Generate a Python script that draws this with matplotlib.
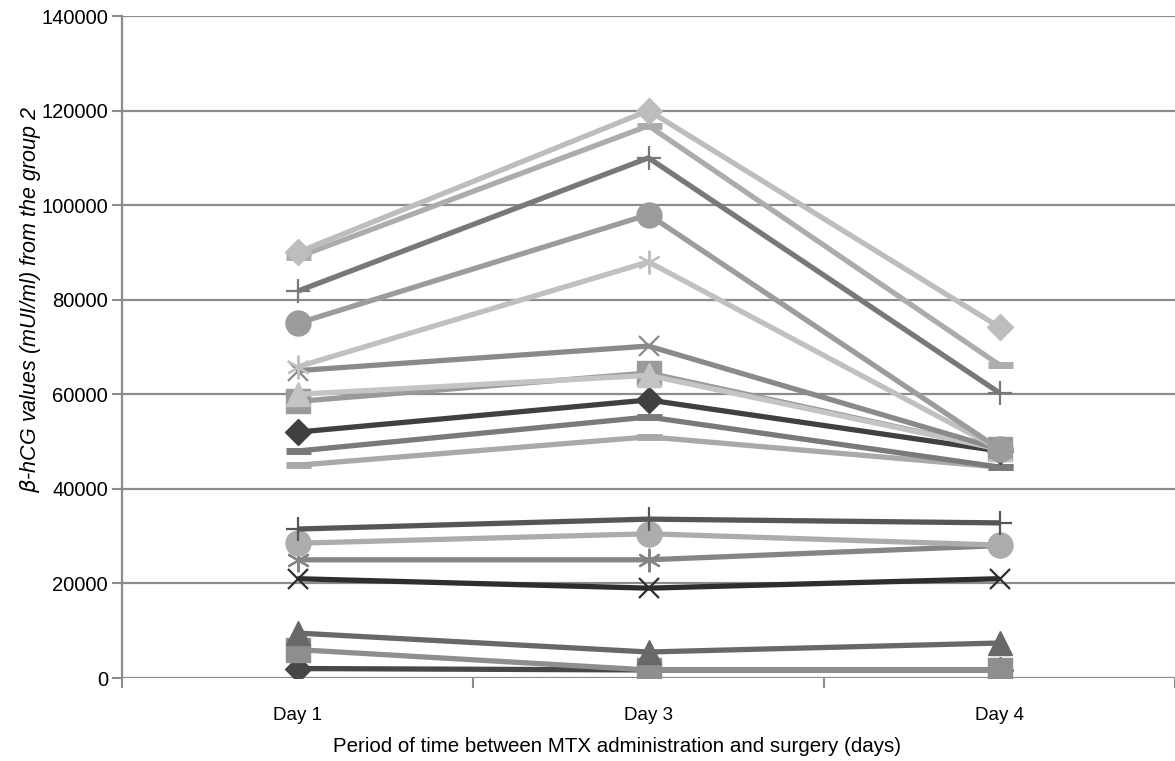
import numpy as np
import matplotlib.pyplot as plt
from matplotlib.ticker import FixedLocator

plt.rcParams['font.family'] = ['Liberation Sans', 'DejaVu Sans']

days = ['Day 1', 'Day 3', 'Day 4']

# beta-hCG values per patient (Day 1, Day 3, Day 4), drawn bottom to top
s01 = [2000, 1700, 1700]
s02 = [6000, 1700, 1700]
s03 = [9500, 5500, 7400]
s04 = [21000, 19000, 21000]
s05 = [25000, 25000, 28000]
s06 = [28500, 30500, 28100]
s07 = [31500, 33600, 32800]
s08 = [45000, 51000, 44600]
s09 = [48000, 55200, 44600]
s10 = [52000, 58800, 48000]
s11 = [58500, 64500, 48400]
s12 = [60000, 64000, 48400]
s13 = [65000, 70200, 48400]
s14 = [65800, 88000, 48400]
s15 = [75000, 98000, 48400]
s16 = [81800, 110000, 60300]
s17 = [89000, 116800, 66200]
s18 = [90000, 120000, 74200]

series = [s01, s02, s03, s04, s05, s06, s07, s08, s09,
          s10, s11, s12, s13, s14, s15, s16, s17, s18]

colors = ['#474747', '#8e8e8e', '#686868', '#2e2e2e', '#858585', '#acacac',
          '#565656', '#a9a9a9', '#7a7a7a', '#404040', '#9a9a9a', '#c4c4c4',
          '#8a8a8a', '#c0c0c0', '#9c9c9c', '#787878', '#acacac', '#bdbdbd']

# marker, size, edge width (Excel-like automatic marker cycle)
mk = {'D': ('D', 13, 1), 's': ('s', 17, 1), '^': ('^', 17, 1),
      'x': ('x', 15, 1.6), '*': ((6, 2, 0), 17, 1.6), 'o': ('o', 18, 1),
      '+': ('+', 17, 1.6), '-': ('_', 18, 5)}
markers = ['D', 's', '^', 'x', '*', 'o', '+', '-', '-',
           'D', 's', '^', 'x', '*', 'o', '+', '-', 'D']

fig = plt.figure(figsize=(11.75, 7.61), dpi=100)
ax = fig.add_axes([122 / 1175, 1 - 678 / 761, 1 - 122 / 1175, (678 - 16) / 761])

x = np.arange(len(days))
for vals, c, m in zip(series, colors, markers):
    sym, ms, mew = mk[m]
    ax.plot(x, vals, color=c, lw=3.8, marker=sym, ms=ms, mew=mew,
            mec=c, mfc=c, solid_capstyle='butt', zorder=3)

ax.set_xlim(-0.5, 2.5)
ax.set_ylim(0, 140000)
ax.set_yticks(np.arange(0, 140001, 20000))
ax.set_xticks(x)
ax.set_xticklabels(days, fontsize=13.5)
ax.xaxis.set_minor_locator(FixedLocator([-0.5, 0.5, 1.5, 2.5]))
ax.tick_params(axis='x', which='major', length=0, pad=21)
ax.tick_params(axis='x', which='minor', length=7, width=1.5, color='#8c8c8c')
ax.tick_params(axis='y', length=7, width=1.5, color='#8c8c8c', labelsize=14.5, pad=3)
ax.grid(axis='y', color='#8c8c8c', lw=1.6, zorder=0)
ax.set_axisbelow(True)
for side in ['top', 'right', 'bottom']:
    ax.spines[side].set_visible(False)
ax.spines['left'].set_color('#8c8c8c')
ax.spines['left'].set_linewidth(1.6)

fig.text(31 / 1175, 1 - 300 / 761, r'$\beta$-hCG values (mUI/ml) from the group 2',
         fontsize=15.5, style='italic', rotation=90, ha='center', va='center')
fig.text(617 / 1175, 1 - 747 / 761,
         'Period of time between MTX administration and surgery (days)',
         fontsize=14.8, ha='center', va='center')

fig.savefig('out.png', dpi=100)
